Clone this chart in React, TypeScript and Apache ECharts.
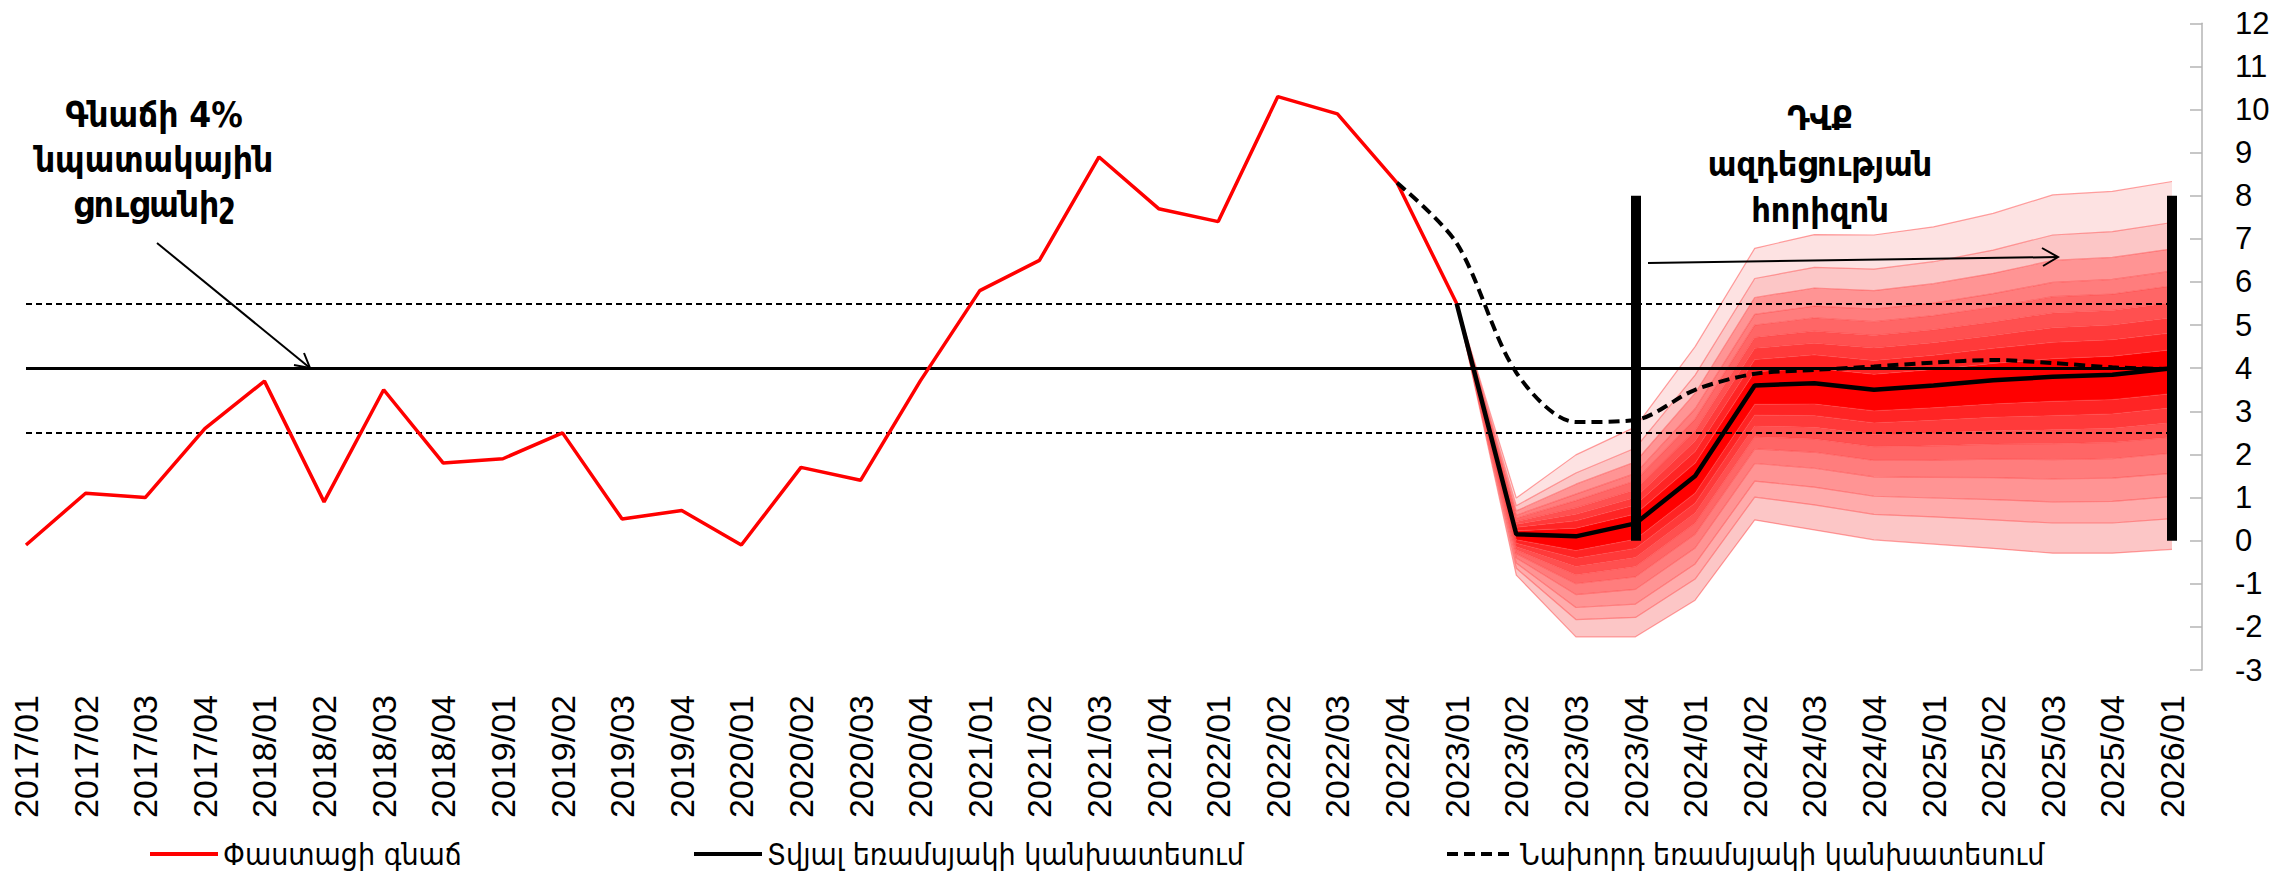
import React, { useEffect, useRef } from 'react';
import * as echarts from 'echarts';

const categories = [
  '2017/01','2017/02','2017/03','2017/04','2018/01','2018/02','2018/03','2018/04',
  '2019/01','2019/02','2019/03','2019/04','2020/01','2020/02','2020/03','2020/04',
  '2021/01','2021/02','2021/03','2021/04','2022/01','2022/02','2022/03','2022/04',
  '2023/01','2023/02','2023/03','2023/04','2024/01','2024/02','2024/03','2024/04',
  '2025/01','2025/02','2025/03','2025/04','2026/01',
];

const yTicks = { min: -3, max: 12, step: 1 };

// Actual inflation (from 2017/01)
const actualStart = '2017/01';
const actualInflation = [-0.1, 1.1, 1.0, 2.6, 3.7, 0.9, 3.5, 1.8, 1.9, 2.5, 0.5, 0.7, -0.1, 1.7, 1.4, 3.7, 5.8, 6.5, 8.9, 7.7, 7.4, 10.3, 9.9, 8.3, 5.5];

// Current quarter forecast (from 2023/01)
const currentStart = '2023/01';
const currentForecast = [5.5, 0.15, 0.1, 0.4, 1.5, 3.6, 3.65, 3.5, 3.6, 3.72, 3.8, 3.85, 4.0];

// Previous quarter forecast (from 2022/04)
const previousStart = '2022/04';
const previousForecast = [8.3, 6.9, 3.9, 2.75, 2.8, 3.5, 3.87, 3.96, 4.04, 4.13, 4.19, 4.12, 4.02, 3.98];

// Fan chart bounds (from 2023/01), central intervals 10%..90%
const fanStart = '2023/01';
const up10 = [5.5, 0.23, 0.29, 0.62, 1.8, 3.92, 4.0, 3.86, 3.97, 4.11, 4.22, 4.28, 4.43];
const up20 = [5.5, 0.31, 0.46, 0.83, 2.07, 4.2, 4.31, 4.18, 4.3, 4.46, 4.6, 4.66, 4.82];
const up30 = [5.5, 0.38, 0.61, 1.0, 2.31, 4.46, 4.58, 4.47, 4.59, 4.76, 4.94, 5.0, 5.17];
const up40 = [5.5, 0.44, 0.76, 1.18, 2.55, 4.71, 4.86, 4.76, 4.89, 5.07, 5.28, 5.34, 5.52];
const up50 = [5.5, 0.52, 0.93, 1.39, 2.82, 5.0, 5.17, 5.08, 5.22, 5.42, 5.66, 5.72, 5.91];
const up60 = [5.5, 0.59, 1.08, 1.56, 3.06, 5.25, 5.44, 5.37, 5.51, 5.73, 5.99, 6.06, 6.25];
const up70 = [5.5, 0.69, 1.31, 1.83, 3.42, 5.64, 5.86, 5.8, 5.96, 6.2, 6.5, 6.57, 6.77];
const up80 = [5.5, 0.81, 1.57, 2.15, 3.84, 6.08, 6.34, 6.3, 6.47, 6.74, 7.09, 7.17, 7.38];
const up90 = [5.5, 0.99, 1.99, 2.64, 4.5, 6.78, 7.1, 7.09, 7.28, 7.59, 8.02, 8.1, 8.33];
const lo10 = [5.5, 0.02, -0.23, 0.03, 1.1, 3.16, 3.17, 3.01, 3.08, 3.17, 3.23, 3.27, 3.41];
const lo20 = [5.5, -0.06, -0.41, -0.18, 0.87, 2.91, 2.9, 2.73, 2.79, 2.86, 2.9, 2.94, 3.08];
const lo30 = [5.5, -0.14, -0.6, -0.39, 0.64, 2.66, 2.63, 2.46, 2.5, 2.55, 2.57, 2.61, 2.74];
const lo40 = [5.5, -0.21, -0.79, -0.6, 0.41, 2.41, 2.36, 2.18, 2.2, 2.24, 2.25, 2.28, 2.4];
const lo50 = [5.5, -0.3, -1.0, -0.84, 0.15, 2.13, 2.05, 1.86, 1.87, 1.89, 1.88, 1.9, 2.03];
const lo60 = [5.5, -0.4, -1.25, -1.13, -0.17, 1.79, 1.68, 1.48, 1.47, 1.46, 1.43, 1.45, 1.56];
const lo70 = [5.5, -0.52, -1.55, -1.47, -0.54, 1.38, 1.24, 1.03, 0.99, 0.95, 0.9, 0.91, 1.02];
const lo80 = [5.5, -0.64, -1.83, -1.78, -0.89, 1.01, 0.83, 0.61, 0.55, 0.48, 0.41, 0.41, 0.51];
const lo90 = [5.5, -0.8, -2.23, -2.23, -1.38, 0.48, 0.25, 0.02, -0.08, -0.18, -0.29, -0.29, -0.2];

// Reference lines
const targetLevel = 4;
const toleranceBand = [5.5, 2.5];
const horizonMarks = ['2023/04', '2026/01'];
const horizonRange = [0, 8];

const legendNames = ['Փաստացի գնաճ', 'Տվյալ եռամսյակի կանխատեսում', 'Նախորդ եռամսյակի կանխատեսում'];
const noteTarget = 'Գնաճի 4%\nնպատակային\nցուցանիշ';
const noteHorizon = 'ԴՎՔ\nազդեցության\nհորիզոն';

const NUM_FONT = "'Liberation Sans Narrow','Arial Narrow','Liberation Sans',Arial,sans-serif";
const ARM_FONT = "'DejaVu Sans Condensed','DejaVu Sans',sans-serif";

// bottom to top; each band filled between consecutive bounds
const fanBounds = [lo90, lo80, lo70, lo60, lo50, lo40, lo30, lo20, lo10, up10, up20, up30, up40, up50, up60, up70, up80, up90];
const fanColors = [
  '', '#fcc6c6', '#ffabab', '#ff9494', '#ff7d7d', '#ff6666', '#ff5050', '#ff3a3a', '#ff2424',
  '#ff0000',
  '#ff2424', '#ff3a3a', '#ff5050', '#ff6666', '#ff7d7d', '#ff9494', '#fcc6c6', '#fde2e2',
];

function place(start: string, values: number[]) {
  const s = categories.indexOf(start);
  return categories.map((_, i) => (i >= s && i - s < values.length ? values[i - s] : null));
}

export default function App() {
  const ref = useRef<HTMLDivElement>(null);
  useEffect(() => {
    const chart = echarts.init(ref.current!, undefined, { renderer: 'svg' });

    const fanSeries = fanBounds.map((b, k) => {
      const vals = k === 0 ? b : b.map((v, j) => +(v - fanBounds[k - 1][j]).toFixed(4));
      const s: any = {
        name: 'fan' + k,
        type: 'line',
        stack: 'fan',
        stackStrategy: 'all',
        data: place(fanStart, vals),
        symbol: 'none',
        silent: true,
        z: 1,
        lineStyle: { color: 'rgba(255,70,70,0.5)', width: 1.2 },
      };
      if (k > 0) s.areaStyle = { color: fanColors[k], opacity: 1 };
      return s;
    });

    const legendCommon = {
      itemWidth: 68, itemHeight: 6, selectedMode: false, top: 834,
      itemStyle: { opacity: 0 },
      lineStyle: { width: 4 },
      textStyle: { fontSize: 30, fontFamily: ARM_FONT, color: '#000' },
    };

    const option: any = {
      animation: false,
      backgroundColor: '#ffffff',
      grid: { left: 26, right: 121, top: 23.3, bottom: 209, containLabel: false },
      xAxis: {
        type: 'category',
        data: categories,
        boundaryGap: false,
        axisLine: { show: false },
        axisTick: { show: false },
        splitLine: { show: false },
        axisLabel: { interval: 0, rotate: 90, margin: 25, fontSize: 34, fontFamily: NUM_FONT, color: '#000' },
      },
      yAxis: {
        type: 'value',
        position: 'right',
        offset: 30,
        min: yTicks.min,
        max: yTicks.max,
        interval: yTicks.step,
        splitLine: { show: false },
        axisLine: { show: true, lineStyle: { color: '#b4b4b4', width: 1.5 } },
        axisTick: { show: true, inside: true, length: 12, lineStyle: { color: '#b4b4b4', width: 1.5 } },
        axisLabel: { margin: 33, fontSize: 31, fontFamily: NUM_FONT, color: '#000' },
      },
      legend: [
        { ...legendCommon, data: [legendNames[0]], left: 143 },
        { ...legendCommon, data: [legendNames[1]], left: 687 },
        { ...legendCommon, data: [legendNames[2]], left: 1440 },
      ],
      series: [
        ...fanSeries,
        {
          name: 'refs',
          type: 'line',
          data: categories.map(() => null),
          symbol: 'none',
          silent: true,
          z: 4,
          markLine: {
            silent: true,
            symbol: ['none', 'none'],
            label: { show: false },
            animation: false,
            data: [
              { yAxis: targetLevel, lineStyle: { color: '#000', width: 3, type: 'solid' } },
              { yAxis: toleranceBand[0], lineStyle: { color: '#000', width: 2, type: [6, 4] } },
              { yAxis: toleranceBand[1], lineStyle: { color: '#000', width: 2, type: [6, 4] } },
              ...horizonMarks.map((c) => [
                { coord: [c, horizonRange[0]], lineStyle: { color: '#000', width: 10, type: 'solid' } },
                { coord: [c, horizonRange[1]] },
              ]),
            ],
          },
        },
        {
          name: legendNames[0],
          type: 'line',
          data: place(actualStart, actualInflation),
          symbol: 'none',
          z: 5,
          color: '#ff0000',
          lineStyle: { color: '#ff0000', width: 3.5 },
        },
        {
          name: legendNames[1],
          type: 'line',
          data: place(currentStart, currentForecast),
          symbol: 'none',
          z: 6,
          color: '#000',
          lineStyle: { color: '#000', width: 4.5 },
        },
        {
          name: legendNames[2],
          type: 'line',
          data: place(previousStart, previousForecast),
          symbol: 'none',
          smooth: 0.3,
          z: 6,
          color: '#000',
          lineStyle: { color: '#000', width: 4, type: [11, 6] },
        },
      ],
      graphic: [
        {
          type: 'text', x: 154, y: 160, z: 10,
          style: { text: noteTarget, fontSize: 35, fontWeight: 'bold', fontFamily: ARM_FONT, fill: '#000',
            align: 'center', verticalAlign: 'middle', lineHeight: 45 },
        },
        { type: 'line', z: 10, shape: { x1: 157, y1: 243, x2: 310, y2: 368 }, style: { stroke: '#000', lineWidth: 2 } },
        { type: 'polyline', z: 10, shape: { points: [[304, 353], [310, 368], [294, 365]] }, style: { stroke: '#000', lineWidth: 2, fill: 'none' } },
        {
          type: 'text', x: 1820, y: 164, z: 10,
          style: { text: noteHorizon, fontSize: 34, fontWeight: 'bold', fontFamily: ARM_FONT, fill: '#000',
            align: 'center', verticalAlign: 'middle', lineHeight: 46 },
        },
        { type: 'line', z: 10, shape: { x1: 1648, y1: 263, x2: 2058, y2: 257 }, style: { stroke: '#000', lineWidth: 2 } },
        { type: 'polyline', z: 10, shape: { points: [[2042, 248], [2058, 257], [2043, 266]] }, style: { stroke: '#000', lineWidth: 2, fill: 'none' } },
      ],
    };
    chart.setOption(option);
    return () => chart.dispose();
  }, []);
  return (
    <div
      ref={ref}
      style={{ position: 'absolute', left: 0, top: 0, width: 2293, height: 879, background: '#fff' }}
    />
  );
}
